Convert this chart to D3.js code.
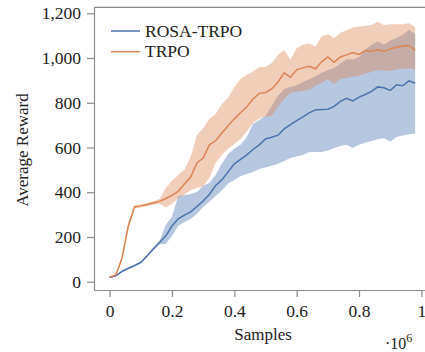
<!DOCTYPE html>
<html>
<head>
<meta charset="utf-8">
<script src="https://cdn.jsdelivr.net/npm/d3@7"></script>
<style>
  body { margin: 0; background: #fff; }
</style>
</head>
<body>
<div id="chart"></div>
<script>
// samples (x 1e6)
const samples = [0, 0.02, 0.04, 0.06, 0.08, 0.10, 0.12, 0.14, 0.16, 0.18,
  0.20, 0.22, 0.24, 0.26, 0.28, 0.30, 0.32, 0.34, 0.36, 0.38,
  0.40, 0.42, 0.44, 0.46, 0.48, 0.50, 0.52, 0.54, 0.56, 0.58,
  0.60, 0.62, 0.64, 0.66, 0.68, 0.70, 0.72, 0.74, 0.76, 0.78,
  0.80, 0.82, 0.84, 0.86, 0.88, 0.90, 0.92, 0.94, 0.96, 0.98];

const rosaMean = [20, 26, 46, 60, 72, 86, 115, 146, 175, 204,
  249, 281, 298, 312, 336, 361, 390, 430, 455, 491,
  527, 547, 567, 591, 612, 638, 646, 655, 683, 702,
  720, 737, 755, 768, 770, 771, 784, 806, 820, 808,
  825, 837, 851, 871, 867, 855, 880, 876, 898, 887];
const rosaLower = [18, 23, 42, 56, 67, 81, 110, 140, 167, 169,
  204, 249, 267, 280, 303, 334, 357, 383, 408, 439,
  455, 471, 482, 491, 504, 511, 518, 527, 540, 553,
  560, 567, 580, 580, 580, 587, 598, 607, 612, 598,
  612, 621, 629, 637, 641, 627, 647, 654, 659, 663];
const rosaUpper = [22, 29, 50, 64, 77, 91, 120, 152, 183, 254,
  290, 383, 386, 392, 401, 428, 442, 477, 527, 571,
  594, 612, 647, 706, 723, 741, 786, 831, 862, 871,
  878, 893, 905, 917, 934, 947, 956, 974, 995, 994,
  1005, 1037, 1059, 1074, 1061, 1077, 1090, 1104, 1126, 1108];

const trpoMean = [20, 30, 106, 249, 334, 339, 345, 352, 359, 372,
  386, 404, 437, 468, 531, 553, 612, 630, 665, 697,
  728, 755, 782, 817, 842, 846, 862, 893, 934, 914,
  947, 956, 963, 952, 983, 1005, 981, 1005, 1014, 1025,
  1016, 1034, 1030, 1037, 1030, 1041, 1048, 1054, 1056, 1034];
const trpoLower = [18, 25, 95, 235, 326, 332, 338, 344, 348, 332,
  348, 374, 388, 410, 419, 426, 464, 531, 567, 594,
  616, 638, 671, 710, 730, 737, 741, 782, 817, 844,
  849, 853, 858, 876, 889, 905, 885, 907, 911, 916,
  920, 931, 938, 947, 943, 943, 949, 952, 954, 949];
const trpoUpper = [22, 35, 115, 265, 342, 346, 352, 360, 370, 419,
  450, 477, 500, 558, 656, 686, 728, 750, 795, 822,
  871, 907, 925, 940, 960, 960, 978, 1014, 1037, 992,
  1044, 1059, 1066, 1050, 1097, 1106, 1090, 1113, 1124, 1137,
  1141, 1144, 1148, 1162, 1148, 1151, 1151, 1151, 1155, 1139];

const xTicks = [0, 0.2, 0.4, 0.6, 0.8, 1];
const yTicks = [0, 200, 400, 600, 800, 1000, 1200];
const seriesNames = ["ROSA-TRPO", "TRPO"];

const width = 425, height = 352;
const plot = { left: 94, right: 437, top: 7.3, bottom: 290 };
const blue = "#4c72b0", orange = "#dd8452";
const serif = '"Liberation Serif", "Times New Roman", Times, serif';

const svg = d3.select("#chart").append("svg")
  .attr("width", width).attr("height", height);

const x = d3.scaleLinear().domain([-0.05, 1.05]).range([plot.left, plot.right]);
const y = d3.scaleLinear().domain([0, 1200]).range([281.7, 13.3]);
const yFull = y.copy().domain([y.invert(plot.bottom), y.invert(plot.top)]).range([plot.bottom, plot.top]);

// bands
const bandArea = (lo, hi) => d3.area()
  .x((d, i) => x(samples[i]))
  .y0((d, i) => y(lo[i]))
  .y1((d, i) => y(hi[i]));
const meanLine = d3.line().x((d, i) => x(samples[i])).y(d => y(d));

svg.append("path").datum(samples).attr("d", bandArea(rosaLower, rosaUpper))
  .attr("fill", blue).attr("fill-opacity", 0.4);
svg.append("path").datum(samples).attr("d", bandArea(trpoLower, trpoUpper))
  .attr("fill", orange).attr("fill-opacity", 0.4);

svg.append("path").datum(rosaMean).attr("d", meanLine)
  .attr("fill", "none").attr("stroke", blue).attr("stroke-width", 1.5);
svg.append("path").datum(trpoMean).attr("d", meanLine)
  .attr("fill", "none").attr("stroke", orange).attr("stroke-width", 1.5);

// axes
const spine = "#8c8c8c";
const yAxis = svg.append("g").attr("transform", `translate(${plot.left},0)`)
  .call(d3.axisLeft(yFull).tickValues(yTicks).tickFormat(d3.format(","))
    .tickSize(7).tickSizeOuter(0).tickPadding(6));
const xAxis = svg.append("g").attr("transform", `translate(0,${plot.bottom})`)
  .call(d3.axisBottom(x).tickValues(xTicks).tickFormat(d => String(d))
    .tickSize(7).tickSizeOuter(0).tickPadding(7.5));
[xAxis, yAxis].forEach(a => {
  a.attr("font-family", null).attr("font-size", null);
  a.select(".domain").attr("stroke", spine).attr("stroke-width", 1.2);
  a.selectAll(".tick line").attr("stroke", spine).attr("stroke-width", 1.2);
  a.selectAll(".tick text").attr("font-size", 17.5);
});
svg.append("line").attr("x1", plot.left).attr("x2", plot.right)
  .attr("y1", plot.top).attr("y2", plot.top)
  .attr("stroke", spine).attr("stroke-width", 1.2);

// labels
svg.append("text").attr("transform", "translate(27.5,150) rotate(-90)")
  .attr("text-anchor", "middle").attr("font-size", 17).text("Average Reward");
svg.append("text").attr("x", 263).attr("y", 340)
  .attr("text-anchor", "middle").attr("font-size", 17).text("Samples");
const mult = svg.append("text").attr("x", 385).attr("y", 349).attr("font-size", 16);
mult.append("tspan").text("·10");
mult.append("tspan").attr("font-size", 12).attr("dy", -7).text("6");

// legend
const legend = svg.append("g");
[blue, orange].forEach((c, i) => {
  const ly = 31 + i * 20.7;
  legend.append("line").attr("x1", 111).attr("x2", 140).attr("y1", ly).attr("y2", ly)
    .attr("stroke", c).attr("stroke-width", 1.5);
  legend.append("text").attr("x", 145).attr("y", ly + 5.5).attr("font-size", 17.5)
    .text(seriesNames[i]);
});

svg.selectAll("text").style("font-family", serif).attr("fill", "#222");
</script>
</body>
</html>
